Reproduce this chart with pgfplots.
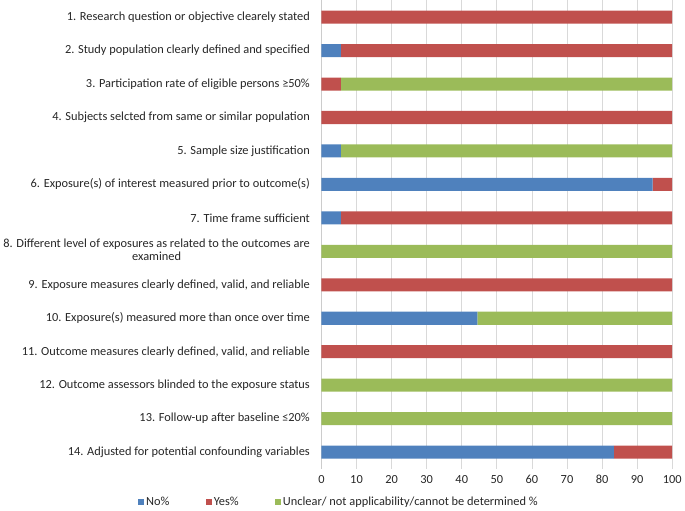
\documentclass[border=0pt]{standalone}
\usepackage{pgfplots}
\pgfplotsset{compat=1.18}
\usepackage{fontspec}
\setmainfont{Carlito}
\definecolor{cNo}{HTML}{4F81BD}
\definecolor{cYes}{HTML}{C0504D}
\definecolor{cUnc}{HTML}{9BBB59}
\begin{document}
\begin{tikzpicture}
\begin{axis}[
  xbar stacked, scale only axis, width=349pt, height=466pt, bar width=13pt,
  xmin=0, xmax=100, xtick={0,10,...,100},
  ymin=0.5, ymax=14.5, y dir=reverse, ytick={1,...,14},
  yticklabels={
    1. Research question or objective clearely stated,
    2. Study population clearly defined and specified,
    3. Participation rate of eligible persons ≥50\%,
    4. Subjects selcted from same or similar population\ ,
    5. Sample size justification,
    6. Exposure(s) of interest measured prior to outcome(s),
    7. Time frame sufficient,
    {\begin{tabular}{@{}c@{}}8. Different level of exposures as related to the outcomes are\\[-1pt] examined\end{tabular}},
    {9. Exposure measures clearly defined, valid, and reliable},
    10. Exposure(s) measured more than once over time,
    {11. Outcome measures clearly defined, valid, and reliable},
    12. Outcome assessors blinded to the exposure status,
    13. Follow-up after baseline ≤20\%,
    14. Adjusted for potential confounding variables},
  tick label style={font=\fontsize{12.3}{13.5}\selectfont, text=black!85},
  /pgf/number format/assume math mode=true,
  major tick length=0pt,
  xmajorgrids, grid style={gray!30, line width=0.8pt},
  axis x line*=bottom, x axis line style={draw=none},
  axis y line*=left, y axis line style={gray!40, line width=0.8pt},
  xticklabel style={yshift=-3pt},
  yticklabel style={xshift=-8pt},
  legend style={font=\fontsize{12.3}{13.5}\selectfont, text=black!85, at={(0.05,-0.07)}, anchor=center,
    legend columns=3, draw=none, fill=none,
    /tikz/every even column/.append style={column sep=34pt}},
  legend image code/.code={\draw[#1,draw=none] (0pt,-3pt) rectangle (6pt,3pt);},
]
\addplot[fill=cNo, draw=none] coordinates {(0,1) (5.56,2) (0,3) (0,4) (5.56,5) (94.44,6) (5.56,7) (0,8) (0,9) (44.44,10) (0,11) (0,12) (0,13) (83.33,14)};
\addplot[fill=cYes, draw=none] coordinates {(100,1) (94.44,2) (5.56,3) (100,4) (0,5) (5.56,6) (94.44,7) (0,8) (100,9) (0,10) (100,11) (0,12) (0,13) (16.67,14)};
\addplot[fill=cUnc, draw=none] coordinates {(0,1) (0,2) (94.44,3) (0,4) (94.44,5) (0,6) (0,7) (100,8) (0,9) (55.56,10) (0,11) (100,12) (100,13) (0,14)};
\legend{No\%, Yes\%, Unclear/ not applicability/cannot be determined \%}
\end{axis}
\end{tikzpicture}
\end{document}
